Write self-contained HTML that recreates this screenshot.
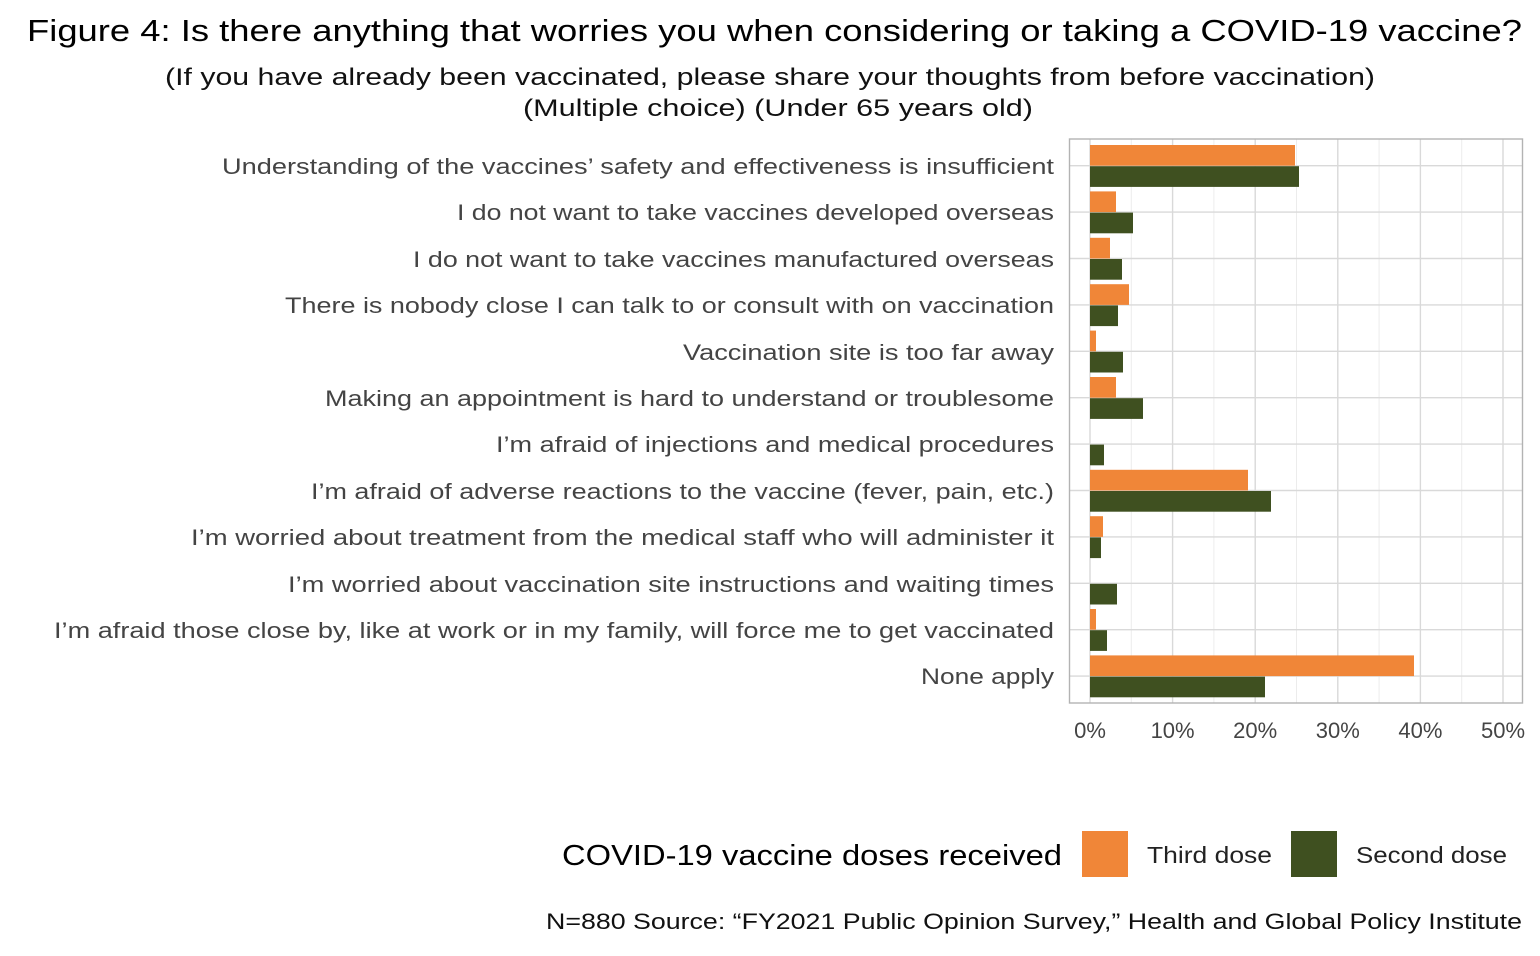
<!DOCTYPE html>
<html><head><meta charset="utf-8"><style>
body{margin:0;background:#fff;}
svg text{font-family:"Liberation Sans","Noto Sans CJK JP",sans-serif;}
</style></head><body>
<svg width="1540" height="951" xmlns="http://www.w3.org/2000/svg">
<rect width="1540" height="951" fill="#fff"/>
<text x="27" y="41" font-size="31" fill="#000" textLength="1495" lengthAdjust="spacingAndGlyphs">Figure 4: Is there anything that worries you when considering or taking a COVID-19 vaccine?</text>
<text x="165" y="85" font-size="24" fill="#111" textLength="1210" lengthAdjust="spacingAndGlyphs">(If you have already been vaccinated, please share your thoughts from before vaccination)</text>
<text x="523" y="116" font-size="24" fill="#111" textLength="510" lengthAdjust="spacingAndGlyphs">(Multiple choice) (Under 65 years old)</text>
<g stroke="#ececec" stroke-width="1">
<line x1="1131.3" y1="139" x2="1131.3" y2="703"/><line x1="1213.9" y1="139" x2="1213.9" y2="703"/><line x1="1296.5" y1="139" x2="1296.5" y2="703"/><line x1="1379.1" y1="139" x2="1379.1" y2="703"/><line x1="1461.7" y1="139" x2="1461.7" y2="703"/>
</g>
<g stroke="#d9d9d9" stroke-width="1.4">
<line x1="1090" y1="139" x2="1090" y2="703"/><line x1="1172.6" y1="139" x2="1172.6" y2="703"/><line x1="1255.2" y1="139" x2="1255.2" y2="703"/><line x1="1337.8" y1="139" x2="1337.8" y2="703"/><line x1="1420.4" y1="139" x2="1420.4" y2="703"/><line x1="1503" y1="139" x2="1503" y2="703"/>
<line x1="1070" y1="165.7" x2="1523" y2="165.7"/><line x1="1070" y1="212.1" x2="1523" y2="212.1"/><line x1="1070" y1="258.5" x2="1523" y2="258.5"/><line x1="1070" y1="304.9" x2="1523" y2="304.9"/><line x1="1070" y1="351.3" x2="1523" y2="351.3"/><line x1="1070" y1="397.7" x2="1523" y2="397.7"/><line x1="1070" y1="444.1" x2="1523" y2="444.1"/><line x1="1070" y1="490.5" x2="1523" y2="490.5"/><line x1="1070" y1="536.9" x2="1523" y2="536.9"/><line x1="1070" y1="583.3" x2="1523" y2="583.3"/><line x1="1070" y1="629.7" x2="1523" y2="629.7"/><line x1="1070" y1="676.1" x2="1523" y2="676.1"/>
</g>
<g fill="#f08638">
<rect x="1090" y="145" width="205" height="20.7"/><rect x="1090" y="191.4" width="26" height="20.7"/><rect x="1090" y="237.8" width="20" height="20.7"/><rect x="1090" y="284.2" width="39" height="20.7"/><rect x="1090" y="330.6" width="6" height="20.7"/><rect x="1090" y="377" width="26" height="20.7"/><rect x="1090" y="469.8" width="158" height="20.7"/><rect x="1090" y="516.2" width="13" height="20.7"/><rect x="1090" y="609" width="6" height="20.7"/><rect x="1090" y="655.4" width="324" height="20.7"/>
</g>
<g fill="#3f5020">
<rect x="1090" y="166.2" width="209" height="20.7"/><rect x="1090" y="212.6" width="43" height="20.7"/><rect x="1090" y="259" width="32" height="20.7"/><rect x="1090" y="305.4" width="28" height="20.7"/><rect x="1090" y="351.8" width="33" height="20.7"/><rect x="1090" y="398.2" width="53" height="20.7"/><rect x="1090" y="444.6" width="14" height="20.7"/><rect x="1090" y="491" width="181" height="20.7"/><rect x="1090" y="537.4" width="11" height="20.7"/><rect x="1090" y="583.8" width="27" height="20.7"/><rect x="1090" y="630.2" width="17" height="20.7"/><rect x="1090" y="676.6" width="175" height="20.7"/>
</g>
<rect x="1069.5" y="139" width="453" height="564" fill="none" stroke="#b3b3b3" stroke-width="1.4"/>
<g font-size="22" fill="#444" lengthAdjust="spacingAndGlyphs">
<text x="222" y="174" textLength="832" lengthAdjust="spacingAndGlyphs">Understanding of the vaccines’ safety and effectiveness is insufficient</text>
<text x="457" y="220" textLength="597" lengthAdjust="spacingAndGlyphs">I do not want to take vaccines developed overseas</text>
<text x="413" y="267" textLength="641" lengthAdjust="spacingAndGlyphs">I do not want to take vaccines manufactured overseas</text>
<text x="285" y="313" textLength="769" lengthAdjust="spacingAndGlyphs">There is nobody close I can talk to or consult with on vaccination</text>
<text x="683" y="360" textLength="371" lengthAdjust="spacingAndGlyphs">Vaccination site is too far away</text>
<text x="325" y="406" textLength="729" lengthAdjust="spacingAndGlyphs">Making an appointment is hard to understand or troublesome</text>
<text x="496" y="452" textLength="558" lengthAdjust="spacingAndGlyphs">I’m afraid of injections and medical procedures</text>
<text x="311" y="499" textLength="743" lengthAdjust="spacingAndGlyphs">I’m afraid of adverse reactions to the vaccine (fever, pain, etc.)</text>
<text x="191" y="545" textLength="863" lengthAdjust="spacingAndGlyphs">I’m worried about treatment from the medical staff who will administer it</text>
<text x="288" y="592" textLength="766" lengthAdjust="spacingAndGlyphs">I’m worried about vaccination site instructions and waiting times</text>
<text x="54" y="638" textLength="1000" lengthAdjust="spacingAndGlyphs">I’m afraid those close by, like at work or in my family, will force me to get vaccinated</text>
<text x="921" y="684" textLength="133" lengthAdjust="spacingAndGlyphs">None apply</text>
</g>
<g font-size="22" fill="#444" text-anchor="middle">
<text x="1090" y="738">0%</text><text x="1172.6" y="738">10%</text><text x="1255.2" y="738">20%</text><text x="1337.8" y="738">30%</text><text x="1420.4" y="738">40%</text><text x="1503" y="738">50%</text>
</g>
<text x="562" y="865" font-size="29" fill="#000" textLength="500" lengthAdjust="spacingAndGlyphs">COVID-19 vaccine doses received</text>
<rect x="1082" y="831" width="46" height="46" fill="#f08638"/>
<text x="1147" y="863" font-size="23" fill="#222" textLength="125" lengthAdjust="spacingAndGlyphs">Third dose</text>
<rect x="1291" y="831" width="46" height="46" fill="#3f5020"/>
<text x="1356" y="863" font-size="23" fill="#222" textLength="151" lengthAdjust="spacingAndGlyphs">Second dose</text>
<text x="546" y="929" font-size="22" fill="#111" textLength="976" lengthAdjust="spacingAndGlyphs">N=880 Source: “FY2021 Public Opinion Survey,” Health and Global Policy Institute</text>
</svg>
</body></html>
